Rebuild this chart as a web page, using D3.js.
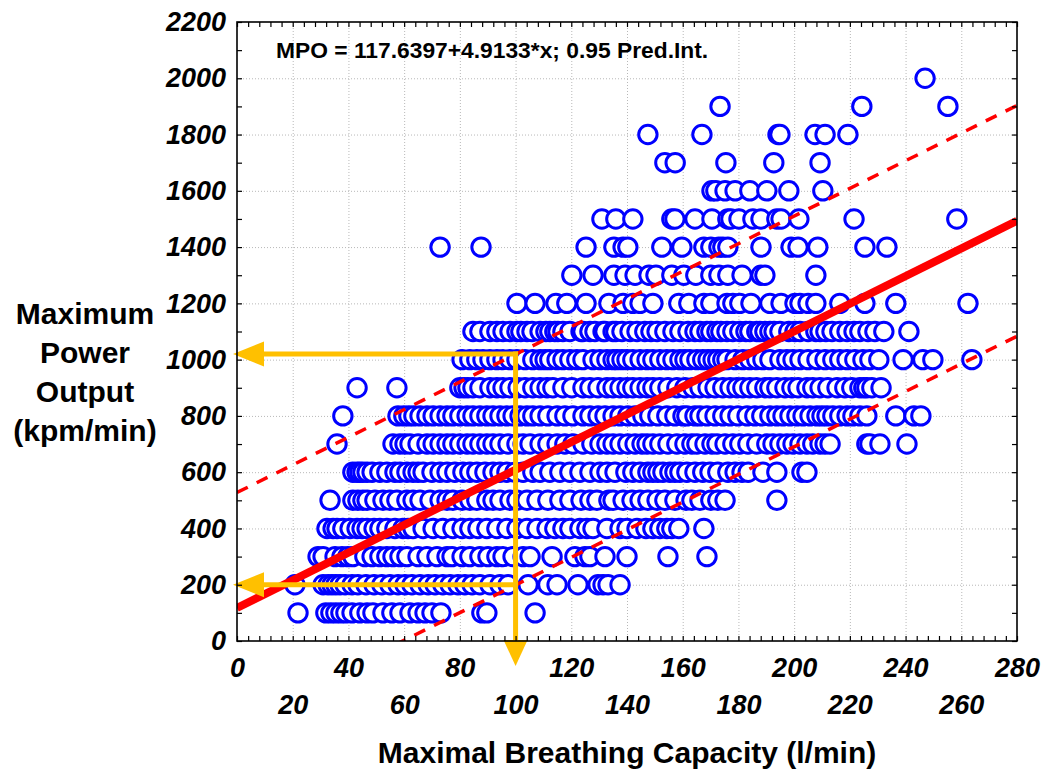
<!DOCTYPE html>
<html><head><meta charset="utf-8">
<script src="https://cdn.jsdelivr.net/npm/d3@7"></script>
<style>body{margin:0;background:#fff}svg{display:block}</style>
</head><body>
<svg id="chart" width="1050" height="775"></svg>
<script>
// ---------- data ----------
const powerLevels = [100,200,300,400,500,600,700,800,900,1000,1100,1200,1300,1400,1500,1600,1700,1800,1900,2000];
const mbc100 = [21.9,31.9,33.7,35.5,37.3,39.1,41.3,44.1,46.7,48.8,52.4,55.6,58.5,62.1,65.0,67.5,70.0,73.2,87.9,89.7,107.0];
const mbc200 = [20.8,30.9,32.7,34.1,35.5,37.0,38.8,41.3,43.4,46.3,49.2,52.0,54.9,57.8,60.3,62.8,65.7,68.6,71.1,73.9,76.5,79.3,81.8,84.4,87.2,90.8,94.4,97.3,104.5,111.6,114.9,122.4,129.6,131.4,133.2,137.5];
const mbc300 = [29.1,30.9,35.2,37.7,39.8,41.6,45.9,48.5,51.3,53.8,56.0,58.5,61.0,65.0,68.2,71.8,75.4,77.2,80.8,83.6,87.2,90.1,93.3,95.5,99.1,102.7,105.2,113.1,121.3,124.9,126.7,132.1,140.0,154.7,168.7];
const mbc400 = [32.3,34.5,35.9,38.0,40.6,43.1,44.9,46.7,49.2,51.3,53.8,56.7,59.6,61.4,63.2,66.8,70.4,73.9,77.5,80.8,83.6,86.5,89.7,93.3,96.9,100.5,104.1,107.7,111.3,114.1,117.0,119.5,123.1,125.6,127.8,132.8,137.5,140.0,143.6,146.8,149.3,151.8,154.3,156.1,158.6,167.6];
const mbc500 = [33.4,41.6,43.4,45.2,46.7,49.5,52.4,54.9,57.4,61.0,63.2,65.7,69.3,72.9,75.4,77.5,80.8,83.6,86.1,89.7,91.9,94.4,98.0,100.5,104.1,107.7,111.6,115.9,119.5,123.5,126.7,129.2,133.5,135.0,138.6,141.8,144.7,147.5,150.8,153.6,157.2,161.2,163.3,166.2,170.1,172.6,175.2,193.8];
const mbc600 = [41.6,43.1,44.1,45.2,46.7,48.5,51.3,53.8,56.7,58.5,61.0,63.2,65.0,66.8,70.0,72.9,75.4,78.2,81.1,83.6,86.1,89.0,91.9,94.4,96.9,99.8,102.7,106.2,108.8,112.3,115.9,119.5,123.1,126.7,130.3,132.8,135.7,139.6,142.1,144.7,147.5,149.3,151.1,152.9,155.4,157.2,159.0,161.5,164.4,167.2,169.8,172.6,176.2,178.8,181.3,183.5,188.8,193.8,202.8,204.6];
const mbc700 = [35.9,56.0,58.5,60.3,62.1,65.0,68.2,70.4,72.9,75.4,77.5,80.0,82.6,84.7,87.2,89.7,91.9,94.4,97.3,100.5,102.7,105.2,108.8,111.6,114.9,117.7,120.6,124.2,127.4,130.3,132.8,135.0,137.5,140.3,142.9,145.4,147.2,149.3,151.8,154.7,157.9,160.8,163.3,165.1,168.0,170.5,172.3,175.2,178.0,180.5,183.4,186.6,190.2,192.4,194.9,197.4,199.6,202.1,204.6,206.7,209.3,211.1,212.9,226.1,227.2,230.8,240.5];
const mbc800 = [38.0,57.8,59.9,61.7,63.5,65.7,68.2,70.4,72.9,75.4,77.5,80.0,82.6,84.7,87.2,89.7,91.9,94.4,96.9,99.1,101.6,104.1,106.2,108.8,111.6,114.9,117.7,120.6,124.2,126.7,129.6,132.1,135.0,137.5,140.3,142.9,145.7,148.2,151.1,154.3,157.2,160.1,161.5,164.4,166.2,168.7,171.6,174.4,177.0,179.8,183.1,185.9,188.4,191.3,193.8,196.0,198.5,201.0,203.2,205.7,208.2,210.0,211.8,213.9,216.4,219.0,221.1,223.6,226.1,236.5,243.0,245.5];
const mbc900 = [43.1,57.4,80.0,81.5,82.9,84.7,87.2,90.8,93.3,95.5,98.0,100.9,103.4,106.2,108.8,111.3,113.4,117.0,120.2,124.2,126.7,129.6,132.8,135.0,137.5,140.0,142.1,144.7,147.2,149.3,151.8,154.7,157.9,160.8,163.7,166.2,169.1,171.6,174.4,177.0,179.5,181.6,184.1,186.6,189.5,191.3,193.8,196.7,199.2,201.4,204.6,206.7,209.3,212.1,215.4,218.2,220.7,223.6,225.0,226.1,227.9,231.2];
const mbc1000 = [80.8,83.6,86.1,88.3,90.8,93.3,95.5,98.0,100.5,103.4,106.2,108.8,110.6,112.3,114.9,117.0,119.5,122.0,124.2,127.8,130.3,132.8,135.0,136.4,138.2,140.0,142.1,144.7,147.2,149.3,151.8,154.3,156.5,159.0,160.8,162.6,165.1,167.2,169.1,170.9,172.6,174.4,175.9,178.8,181.6,184.1,186.6,188.8,191.3,194.9,197.4,199.6,202.1,205.0,208.2,211.1,213.9,216.4,219.0,221.8,224.7,227.2,230.4,239.1,246.2,249.8,263.8];
const mbc1100 = [84.7,87.2,90.8,93.3,95.5,98.0,100.5,101.9,104.1,105.9,108.8,110.9,112.3,114.1,115.2,117.0,119.5,123.5,124.2,126.7,128.5,131.4,132.1,135.0,136.0,138.2,141.1,143.6,146.4,148.6,150.8,153.6,156.5,159.0,161.9,164.4,166.2,168.7,170.1,172.3,173.7,175.9,178.0,180.5,182.7,184.1,186.6,187.7,189.5,191.3,192.8,194.9,198.1,200.3,202.1,205.0,207.8,209.3,211.4,213.6,216.4,219.0,221.5,223.6,226.5,229.0,232.2,241.2];
const mbc1200 = [100.5,107.0,114.5,118.4,125.3,133.5,138.6,142.1,144.7,149.3,158.6,162.2,167.6,170.1,175.9,178.0,180.5,184.5,191.3,195.3,200.3,202.1,205.0,207.8,216.4,225.4,236.5,262.4];
const mbc1300 = [120.2,127.8,135.3,139.3,142.9,147.9,150.4,156.1,160.4,164.7,170.1,173.0,176.2,181.3,188.1,189.5,207.8];
const mbc1400 = [72.9,87.6,125.3,135.3,138.6,140.3,152.5,159.7,167.6,170.1,173.0,174.4,176.2,188.1,198.9,201.4,208.5,225.4,233.3];
const mbc1500 = [131.0,136.0,142.1,156.1,157.2,164.4,170.5,176.2,177.3,180.2,185.2,188.1,193.8,195.3,201.7,221.5,258.4];
const mbc1600 = [170.5,171.9,175.2,178.8,184.1,190.2,198.1,210.3];
const mbc1700 = [153.6,157.3,175.5,192.7,209.3];
const mbc1800 = [147.5,166.9,194.2,194.9,207.5,211.1,219.3];
const mbc1900 = [173.4,224.3,255.2];
const mbc2000 = [247.0];
const mbcRows = [mbc100,mbc200,mbc300,mbc400,mbc500,mbc600,mbc700,mbc800,mbc900,mbc1000,mbc1100,mbc1200,mbc1300,mbc1400,mbc1500,mbc1600,mbc1700,mbc1800,mbc1900,mbc2000];

const regIntercept = 117.6397, regSlope = 4.9133, predHalfWidth = 410;
const arrowMBC = 100;
const arrowPowers = [1020, 200];

const xTicksRow1 = [0,40,80,120,160,200,240,280];
const xTicksRow2 = [20,60,100,140,180,220,260];
const yTickLabels = [0,200,400,600,800,1000,1200,1400,1600,1800,2000,2200];
const yTitleLines = ["Maximum","Power","Output","(kpm/min)"];
const xTitle = "Maximal Breathing Capacity (l/min)";
const annotation = "MPO = 117.6397+4.9133*x; 0.95 Pred.Int.";

// ---------- layout ----------
const L = 237, R = 1017, T = 22, B = 641;
const FONT = "'Liberation Sans', Arial, Helvetica, sans-serif";
const svg = d3.select("#chart");
const x = d3.scaleLinear().domain([0,280]).range([L,R]);
const y = d3.scaleLinear().domain([0,2200]).range([B,T]);

svg.append("defs").append("clipPath").attr("id","plotclip")
  .append("rect").attr("x",L).attr("y",T).attr("width",R-L).attr("height",B-T);

// grid
const grid = svg.append("g").attr("stroke","#b8b8b8").attr("stroke-width",1).attr("stroke-dasharray","1,2");
grid.selectAll("line.v").data(d3.range(20,280,20)).join("line").attr("class","v")
  .attr("x1",d=>x(d)+0.5).attr("x2",d=>x(d)+0.5).attr("y1",T).attr("y2",B);
grid.selectAll("line.h").data(d3.range(200,2200,200)).join("line").attr("class","h")
  .attr("y1",d=>y(d)+0.5).attr("y2",d=>y(d)+0.5).attr("x1",L).attr("x2",R);

// points
const pts = [];
mbcRows.forEach((row,i)=>{ row.slice().sort((a,b)=>a-b).forEach(v=>pts.push({mbc:v,mpo:powerLevels[i]})); });
svg.append("g").selectAll("circle").data(pts).join("circle")
  .attr("cx",d=>x(d.mbc)).attr("cy",d=>y(d.mpo)).attr("r",9.2)
  .attr("fill","#fff").attr("stroke","#0000ff").attr("stroke-width",3);

// regression and prediction interval
const lineGen = d3.line().x(d=>x(d[0])).y(d=>y(d[1]));
const xs = [0,280];
const lg = svg.append("g").attr("clip-path","url(#plotclip)");
lg.append("path").datum(xs.map(v=>[v,regIntercept+regSlope*v]))
  .attr("d",lineGen).attr("stroke","#ff0000").attr("stroke-width",8).attr("fill","none");
[1,-1].forEach(s=>{
  lg.append("path").datum(xs.map(v=>[v,regIntercept+regSlope*v+s*predHalfWidth]))
    .attr("d",lineGen).attr("stroke","#ff0000").attr("stroke-width",3.5)
    .attr("stroke-dasharray","12,10").attr("fill","none");
});

// orange arrows
const OR = "#ffc000";
const ag = svg.append("g");
const ax = x(arrowMBC);
ag.append("line").attr("x1",ax).attr("x2",ax).attr("y1",y(d3.max(arrowPowers))-2.5).attr("y2",B)
  .attr("stroke",OR).attr("stroke-width",5);
ag.append("path").attr("d",`M${ax-12},${B-1}L${ax+12},${B-1}L${ax},${B+25}Z`).attr("fill",OR);
arrowPowers.forEach(p=>{
  const yy = y(p);
  ag.append("line").attr("x1",ax+2.5).attr("x2",L+25).attr("y1",yy).attr("y2",yy)
    .attr("stroke",OR).attr("stroke-width",5);
  ag.append("path").attr("d",`M${L+27},${yy-12.5}L${L+27},${yy+12.5}L${L-4},${yy}Z`).attr("fill",OR);
});

// frame
svg.append("rect").attr("x",L).attr("y",T).attr("width",R-L).attr("height",B-T)
  .attr("fill","none").attr("stroke","#000").attr("stroke-width",1.6);

// minor/major inward ticks on all sides
function tickAxis(gen, tx, ty){
  const g = svg.append("g").attr("transform",`translate(${tx},${ty})`).call(gen);
  g.select(".domain").remove();
  g.selectAll("line").attr("stroke","#000").attr("stroke-width",1.2);
  return g;
}
tickAxis(d3.axisBottom(x).tickValues(d3.range(0,281,4)).tickSize(-5).tickFormat(""),0,B);
tickAxis(d3.axisTop(x).tickValues(d3.range(0,281,4)).tickSize(-5).tickFormat(""),0,T);
tickAxis(d3.axisLeft(y).tickValues(d3.range(0,2201,100)).tickSize(-5).tickFormat(""),L,0);
tickAxis(d3.axisRight(y).tickValues(d3.range(0,2201,100)).tickSize(-5).tickFormat(""),R,0);

// tick labels
function styleLabels(g,size){
  g.select(".domain").remove();
  g.selectAll("line").remove();
  g.selectAll("text").attr("font-family",FONT).attr("font-size",size)
   .attr("font-weight","bold").attr("font-style","italic").attr("fill","#000");
}
const yl = svg.append("g").attr("transform",`translate(${L},0)`)
  .call(d3.axisLeft(y).tickValues(yTickLabels).tickSize(0).tickPadding(11).tickFormat(d3.format("d")));
styleLabels(yl,27);
const xl1 = svg.append("g").attr("transform",`translate(0,${B})`)
  .call(d3.axisBottom(x).tickValues(xTicksRow1).tickSize(0).tickPadding(17).tickFormat(d3.format("d")));
styleLabels(xl1,27);
const xl2 = svg.append("g").attr("transform",`translate(0,${B})`)
  .call(d3.axisBottom(x).tickValues(xTicksRow2).tickSize(0).tickPadding(54).tickFormat(d3.format("d")));
styleLabels(xl2,27);

// titles
svg.append("text").attr("x",627).attr("y",763).attr("text-anchor","middle")
  .attr("font-family",FONT).attr("font-size",30).attr("font-weight","bold").text(xTitle);
svg.append("g").selectAll("text").data(yTitleLines).join("text")
  .attr("x",85).attr("y",(d,i)=>324+i*39).attr("text-anchor","middle")
  .attr("font-family",FONT).attr("font-size",30).attr("font-weight","bold").text(d=>d);
svg.append("text").attr("x",276).attr("y",58)
  .attr("font-family",FONT).attr("font-size",22.8).attr("font-weight","bold").text(annotation);
</script>
</body></html>
